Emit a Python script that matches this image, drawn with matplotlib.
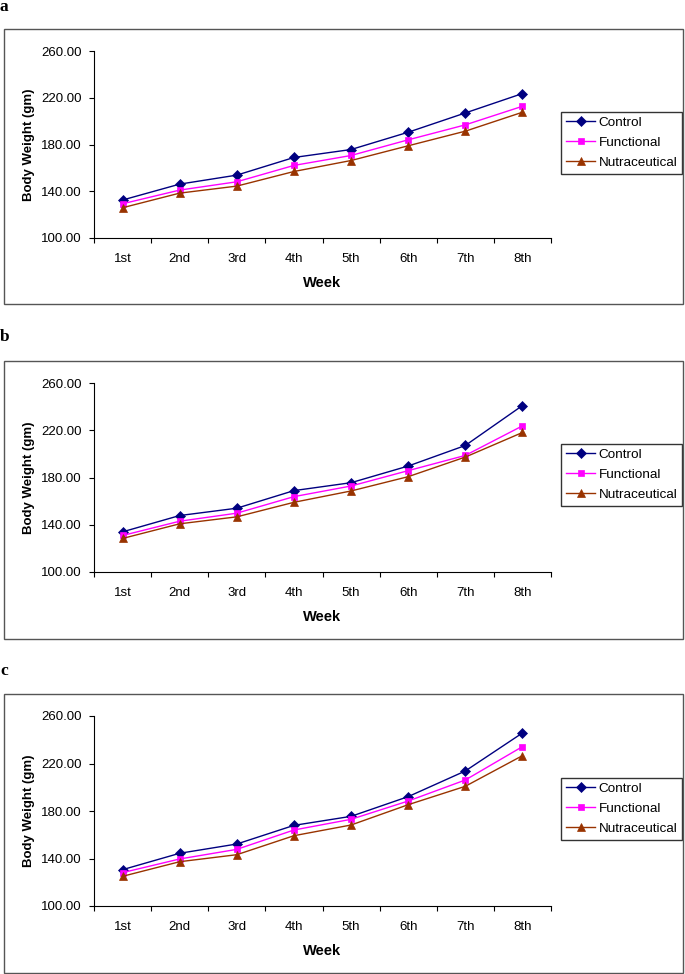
import matplotlib
matplotlib.use("Agg")
import matplotlib.pyplot as plt
from matplotlib.patches import Rectangle
from matplotlib.ticker import FixedLocator, FormatStrFormatter

weeks = ['1st', '2nd', '3rd', '4th', '5th', '6th', '7th', '8th']
groups = ['Control', 'Functional', 'Nutraceutical']

# body weight (gm) per week, one set per panel
control_a = [132.5, 146.1, 153.8, 168.9, 175.7, 190.5, 207.0, 223.6]
functional_a = [129.3, 141.0, 148.1, 162.1, 170.6, 184.0, 196.8, 212.7]
nutra_a = [125.9, 138.4, 144.4, 156.9, 166.3, 178.9, 191.4, 207.6]

control_b = [134.0, 147.8, 154.0, 168.9, 175.6, 189.7, 207.1, 240.9]
functional_b = [130.9, 143.0, 149.8, 163.8, 172.8, 185.8, 198.7, 223.7]
nutra_b = [128.4, 140.8, 146.7, 159.0, 168.6, 180.7, 197.3, 218.1]

control_c = [130.6, 144.4, 152.2, 167.9, 175.5, 192.1, 213.7, 245.7]
functional_c = [128.1, 139.6, 147.7, 164.0, 173.0, 188.4, 206.1, 234.2]
nutra_c = [125.0, 137.3, 143.2, 159.2, 168.2, 185.3, 200.8, 226.6]

yticks = [100, 140, 180, 220, 260]

plt.rcParams['font.family'] = ['Liberation Sans', 'DejaVu Sans']

W, H = 685, 974
fig = plt.figure(figsize=(W / 100, H / 100), dpi=100)

styles = [
    dict(color='#000080', marker='D', markersize=4.8),
    dict(color='#FF00FF', marker='s', markersize=5.0),
    dict(color='#993300', marker='^', markersize=5.8),
]

# (letter, letter baseline, frame top, frame bottom, axes top, axes bottom, legend top) in pixels
panels = [
    ('a', 11, 29, 304, 51, 238, 112, [control_a, functional_a, nutra_a]),
    ('b', 341, 361, 639, 383, 572, 444, [control_b, functional_b, nutra_b]),
    ('c', 675, 694, 973, 716, 906, 778, [control_c, functional_c, nutra_c]),
]

ax_left, ax_right = 94, 551

for letter, base, ftop, fbot, atop, abot, ltop, series in panels:
    fig.text(0.0, 1 - base / H, letter, ha='left', va='baseline',
             family='Liberation Serif', weight='bold', size=12.5)

    # outer chart border
    fig.patches.append(Rectangle((4 / W, 1 - fbot / H), 679 / W, (fbot - ftop) / H,
                                 transform=fig.transFigure, fill=False,
                                 edgecolor='#555555', linewidth=1.0))

    ax = fig.add_axes([ax_left / W, 1 - abot / H, (ax_right - ax_left) / W, (abot - atop) / H])
    x = list(range(len(weeks)))
    for vals, name, st in zip(series, groups, styles):
        ax.plot(x, vals, label=name, linewidth=1.0, markeredgewidth=0.5,
                markeredgecolor=st['color'], clip_on=False, **st)

    ax.set_xlim(-0.5, len(weeks) - 0.5)
    ax.set_ylim(100, 260)
    ax.spines['top'].set_visible(False)
    ax.spines['right'].set_visible(False)
    for s in ['left', 'bottom']:
        ax.spines[s].set_linewidth(0.8)

    # ticks between categories, labels at centers
    ax.xaxis.set_major_locator(FixedLocator([i - 0.5 for i in range(len(weeks) + 1)]))
    ax.xaxis.set_minor_locator(FixedLocator(x))
    ax.set_xticklabels([], minor=False)
    ax.set_xticklabels(weeks, minor=True)
    ax.tick_params(axis='x', which='major', direction='out', length=3.7, width=0.8)
    ax.tick_params(axis='x', which='minor', length=0, pad=11, labelsize=9.5)

    ax.set_yticks(yticks)
    ax.yaxis.set_major_formatter(FormatStrFormatter('%.2f'))
    ax.tick_params(axis='y', direction='out', length=3.7, width=0.8, pad=5, labelsize=9.5)

    ax.set_xlabel('Week', fontsize=10.5, fontweight='bold', labelpad=8)
    ax.set_ylabel('Body Weight (gm)', fontsize=9.5, fontweight='bold', labelpad=4.5)

    ax.legend(loc='upper left', bbox_to_anchor=(561 / W, 1 - ltop / H),
              bbox_transform=fig.transFigure, borderaxespad=0, fontsize=9.7,
              frameon=True, fancybox=False, edgecolor='#333333', framealpha=1,
              borderpad=0.35, labelspacing=0.55, handlelength=2.2, handletextpad=0.25)

fig.savefig('out.png', dpi=100)
